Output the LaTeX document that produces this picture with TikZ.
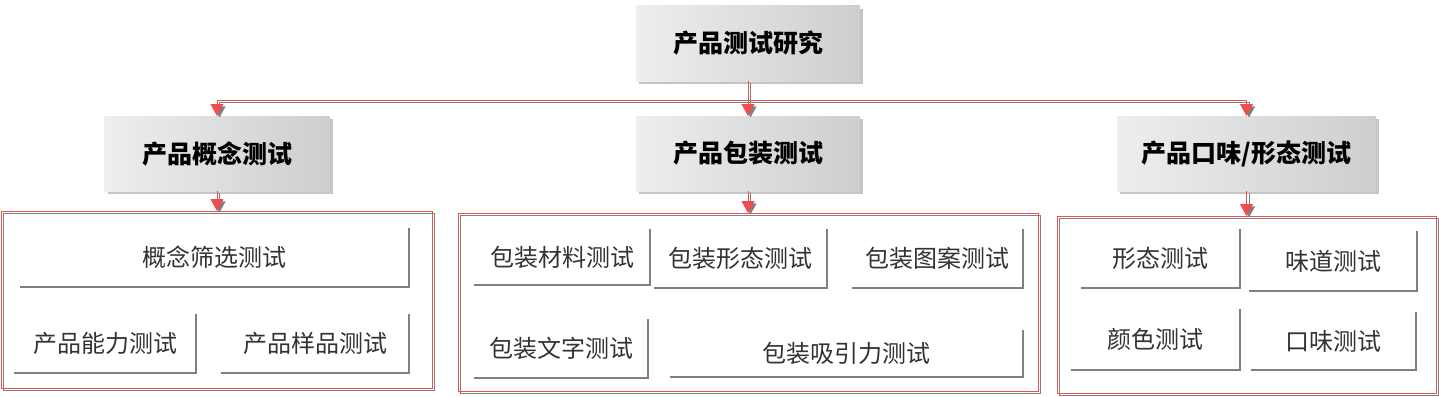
\documentclass[tikz,border=0pt]{standalone}
\usepackage{fontspec}
\usepackage{tikz}
\usetikzlibrary{arrows.meta,positioning,shadows}
\newfontfamily\cjk{Noto Sans CJK SC}
\definecolor{linkred}{RGB}{238,78,78}
\definecolor{hdlight}{RGB}{238,238,238}
\definecolor{hddark}{RGB}{206,206,206}
\definecolor{edgegray}{RGB}{128,128,128}

\begin{document}
\begin{tikzpicture}[x=1pt,y=-1pt,
  head/.style={inner sep=0pt,outer sep=0pt,left color=hdlight,right color=hddark,
    drop shadow={shadow xshift=3pt,shadow yshift=-3pt,opacity=0.45,fill=gray},
    minimum height=75pt,font=\cjk\bfseries\fontsize{25}{30}\selectfont},
  leaf/.style={inner sep=0pt,outer sep=0pt,text=black!80,font=\cjk\fontsize{24}{28}\selectfont},
  edge/.style={draw=edgegray,line width=2.2pt},
  group/.style={draw=linkred,line width=0.9pt,inner sep=0pt,outer sep=0pt,
    general shadow={shadow xshift=2pt,shadow yshift=-2pt,draw=edgegray}},
  link/.style={draw=linkred,line width=1pt,-{Triangle[width=13pt,length=12pt]},
    general shadow={shadow xshift=2.5pt,shadow yshift=-2pt,draw=edgegray}}]
\path[use as bounding box,fill=white] (0,0) rectangle (1439,396);

\node[head,minimum width=224pt] (root) at (748,43.5) {产品测试研究};
\node[head,minimum width=224pt,below=35pt of root] (pack) {产品包装测试};
\node[head,minimum width=225pt] (concept) at (217,153.5) {产品概念测试};
\node[head,minimum width=259pt] (taste) at (1246.5,153.5) {产品口味/形态测试};

\node[group,minimum width=431pt,minimum height=177pt] (cbox) at (217,299.5) {};
\node[group,minimum width=580pt,minimum height=178pt] (pbox) at (748,302) {};
\node[group,minimum width=379pt,minimum height=177pt] (tbox) at (1246.5,304.5) {};

\foreach \n/\x/\y/\w/\h/\t in {
  c1/214.5/257.5/389/59/概念筛选测试, c2/105/343.5/182/59/产品能力测试,
  c3/315/343.5/188/59/产品样品测试,
  p1/562/257/176/56/包装材料测试, p2/740.5/258.5/173/59/包装形态测试,
  p3/937.5/258.5/171/59/包装图案测试, p4/561/348.5/174/59/包装文字测试,
  p5/846.5/353.5/353/47/包装吸引力测试,
  t1/1160.5/258.5/159/59/形态测试, t2/1333/261/168/60/味道测试,
  t3/1155.5/339.5/169/61/颜色测试, t4/1333.5/341/165/58/口味测试}{
  \node[leaf,minimum width=\w pt,minimum height=\h pt] (\n) at (\x,\y) {\t};
  \draw[edge] (\n.south west) -| (\n.north east);
}

\draw[link] (root.south) -- ++(0,19) -| (concept.north);
\draw[link] (root.south) -- ++(0,19) -| (taste.north);
\draw[link] (root.south) -- (pack.north);
\draw[link] (concept.south) -- (cbox.north);
\draw[link] (pack.south) -- (pbox.north);
\draw[link] (taste.south) -- (tbox.north);
\end{tikzpicture}
\end{document}
